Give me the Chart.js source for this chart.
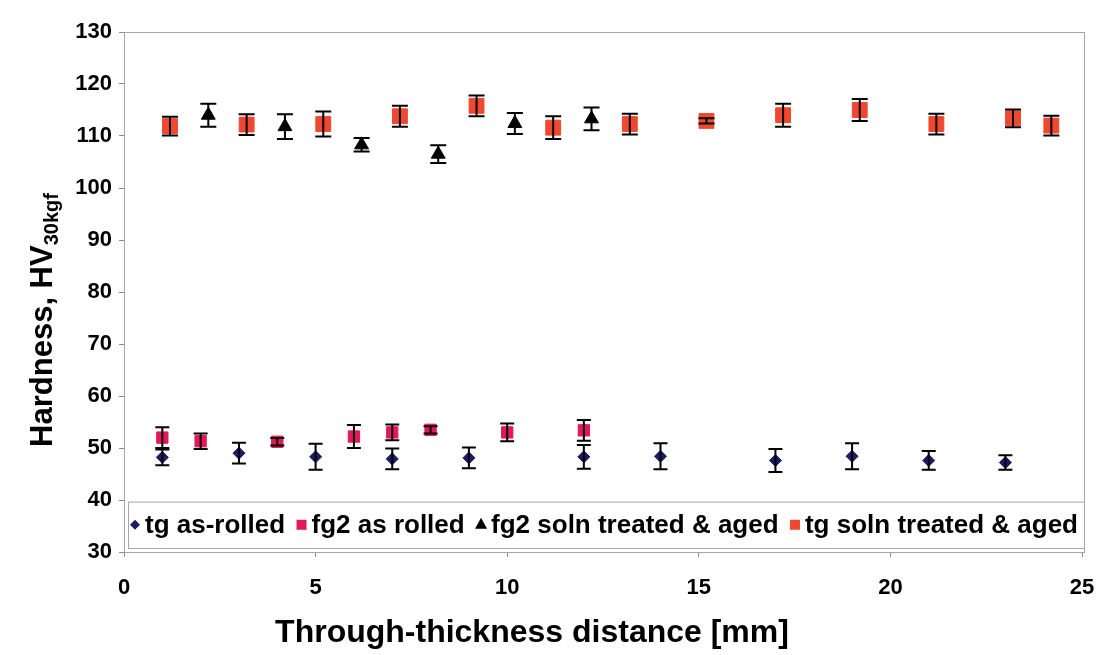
<!DOCTYPE html>
<html>
<head>
<meta charset="utf-8">
<script src="https://cdn.jsdelivr.net/npm/chart.js@4.4.1/dist/chart.umd.min.js"></script>
<style>
  body { margin: 0; background: #fff; }
  #wrap { width: 1096px; height: 655px; }
</style>
</head>
<body>
<div id="wrap"><canvas id="hardness-chart" width="1096" height="655"></canvas></div>
<script>
// tg as-rolled
const tgRolledX = [1, 3, 5, 7, 9, 12, 14, 17, 19, 21, 23];
const tgRolledY = [48.2, 49, 48.3, 47.9, 48.1, 48.3, 48.4, 47.6, 48.4, 47.6, 47.2];
const tgRolledErr = [1.5, 2, 2.5, 2, 2, 2.3, 2.5, 2.2, 2.5, 1.8, 1.4];

// fg2 as rolled
const fg2RolledX = [1, 2, 4, 6, 7, 8, 10, 12];
const fg2RolledY = [52, 51.3, 51.2, 52.2, 53, 53.5, 53, 53.4];
const fg2RolledErr = [2, 1.5, 0.7, 2.2, 1.5, 0.7, 1.7, 2];

// fg2 soln treated & aged
const fg2AgedX = [2.2, 4.2, 6.2, 8.2, 10.2, 12.2];
const fg2AgedY = [114, 111.8, 108.3, 106.5, 112.4, 113.3];
const fg2AgedErr = [2.2, 2.4, 1.3, 1.7, 2, 2.2];

// tg soln treated & aged
const tgAgedX = [1.2, 3.2, 5.2, 7.2, 9.2, 11.2, 13.2, 15.2, 17.2, 19.2, 21.2, 23.2, 24.2];
const tgAgedY = [111.9, 112.2, 112.3, 113.8, 115.8, 111.6, 112.3, 112.9, 114, 115, 112.3, 113.4, 112];
const tgAgedErr = [1.8, 2, 2.4, 2, 2, 2.2, 2, 0.5, 2.2, 2.1, 2, 1.7, 1.9];

const xTicks = [0, 5, 10, 15, 20, 25];
const yTicks = [30, 40, 50, 60, 70, 80, 90, 100, 110, 120, 130];

function toPoints(xs, ys) {
  return xs.map((x, i) => ({ x: x, y: ys[i] }));
}

const FONT = "'Liberation Sans', Arial, sans-serif";

// error bars, drawn with the chart's own scales
const errorBars = {
  id: "errorBars",
  afterDatasetsDraw(chart) {
    const ctx = chart.ctx;
    const xs = chart.scales.x;
    const ys = chart.scales.y;
    ctx.save();
    ctx.strokeStyle = "#000";
    ctx.lineWidth = 2;
    chart.data.datasets.forEach((ds) => {
      ds.data.forEach((p, i) => {
        const e = ds.errors[i];
        const px = xs.getPixelForValue(p.x);
        const top = ys.getPixelForValue(p.y + e);
        const bot = ys.getPixelForValue(p.y - e);
        const cap = ds.capWidth;
        ctx.beginPath();
        ctx.moveTo(px, top);
        ctx.lineTo(px, bot);
        ctx.moveTo(px - cap, top);
        ctx.lineTo(px + cap, top);
        ctx.moveTo(px - cap, bot);
        ctx.lineTo(px + cap, bot);
        ctx.stroke();
      });
    });
    ctx.restore();
  },
};

// plot frame, legend inside the plot area and the axis titles
const decorations = {
  id: "decorations",
  beforeDatasetsDraw(chart) {
    const ctx = chart.ctx;
    const a = chart.chartArea;
    ctx.save();
    ctx.strokeStyle = "#a6a6a6";
    ctx.lineWidth = 1;
    ctx.strokeRect(a.left + 0.5, a.top + 0.5, a.right - a.left + 2, a.bottom - a.top);
    ctx.restore();
  },
  afterDraw(chart) {
    const ctx = chart.ctx;
    const a = chart.chartArea;

    // legend box
    const boxTop = chart.scales.y.getPixelForValue(39.7);
    const boxBottom = a.bottom - 4;
    ctx.save();
    ctx.fillStyle = "#fff";
    ctx.fillRect(a.left + 4, boxTop, a.right - a.left - 2, boxBottom - boxTop);
    ctx.strokeStyle = "#a6a6a6";
    ctx.lineWidth = 1;
    ctx.strokeRect(a.left + 4.5, boxTop + 0.5, a.right - a.left - 2, boxBottom - boxTop);

    ctx.font = "bold 26px " + FONT;
    ctx.textBaseline = "middle";
    ctx.fillStyle = "#000";
    const midY = (boxTop + boxBottom) / 2;
    const items = chart.data.datasets.map((ds) => ({
      text: ds.label,
      ds: ds,
      w: ctx.measureText(ds.label).width,
    }));
    const markerW = 15;
    let total = 0;
    items.forEach((it) => (total += markerW + it.w));
    const gap = (a.right - a.left - 10 - total) / (items.length - 1);
    let x = a.left + 6;
    items.forEach((it) => {
      const mx = x + 5;
      ctx.fillStyle = it.ds.backgroundColor;
      ctx.beginPath();
      if (it.ds.pointStyle === "rectRot") {
        ctx.moveTo(mx - 5, midY);
        ctx.lineTo(mx, midY - 5);
        ctx.lineTo(mx + 5, midY);
        ctx.lineTo(mx, midY + 5);
      } else if (it.ds.pointStyle === "triangle") {
        ctx.moveTo(mx, midY - 7);
        ctx.lineTo(mx + 6, midY + 4);
        ctx.lineTo(mx - 6, midY + 4);
      } else {
        ctx.rect(mx - 5, midY - 5, 10, 10);
      }
      ctx.closePath();
      ctx.fill();
      ctx.fillStyle = "#000";
      ctx.fillText(it.text, x + markerW, midY + 1);
      x += markerW + it.w + gap;
    });

    // x axis title
    ctx.font = "bold 32px " + FONT;
    ctx.textAlign = "center";
    ctx.textBaseline = "middle";
    ctx.fillText("Through-thickness distance [mm]", 532, 633);

    // y axis title: Hardness, HV with subscript 30kgf
    const cx = 41;
    const cy = (a.top + a.bottom) / 2 + 28;
    ctx.translate(cx, cy);
    ctx.rotate(-Math.PI / 2);
    ctx.textBaseline = "alphabetic";
    ctx.textAlign = "left";
    const main = "Hardness, HV";
    const sub = "30kgf";
    ctx.font = "bold 31px " + FONT;
    const mw = ctx.measureText(main).width;
    ctx.font = "bold 20px " + FONT;
    const sw = ctx.measureText(sub).width;
    const start = -(mw + sw) / 2;
    ctx.font = "bold 31px " + FONT;
    ctx.fillText(main, start, 11);
    ctx.font = "bold 20px " + FONT;
    ctx.fillText(sub, start + mw, 17);
    ctx.restore();
  },
};

const ctx = document.getElementById("hardness-chart").getContext("2d");
new Chart(ctx, {
  type: "scatter",
  data: {
    datasets: [
      {
        label: "tg as-rolled",
        data: toPoints(tgRolledX, tgRolledY),
        errors: tgRolledErr,
        capWidth: 7,
        pointStyle: "rectRot",
        pointRadius: 6,
        backgroundColor: "#1c1c66",
        borderColor: "#1c1c66",
        borderWidth: 1,
      },
      {
        label: "fg2 as rolled",
        data: toPoints(fg2RolledX, fg2RolledY),
        errors: fg2RolledErr,
        capWidth: 7,
        pointStyle: "rect",
        pointRadius: 8,
        backgroundColor: "#e3175b",
        borderColor: "#e3175b",
        borderWidth: 1,
      },
      {
        label: "fg2 soln treated & aged",
        data: toPoints(fg2AgedX, fg2AgedY),
        errors: fg2AgedErr,
        capWidth: 8,
        pointStyle: "triangle",
        pointRadius: 8,
        backgroundColor: "#000",
        borderColor: "#000",
        borderWidth: 1,
      },
      {
        label: "tg soln treated & aged",
        data: toPoints(tgAgedX, tgAgedY),
        errors: tgAgedErr,
        capWidth: 8,
        pointStyle: "rect",
        pointRadius: 10.5,
        backgroundColor: "#f0472f",
        borderColor: "#f0472f",
        borderWidth: 1,
      },
    ],
  },
  options: {
    responsive: false,
    animation: false,
    layout: {
      padding: { top: 32, right: 0, bottom: 0, left: 0 },
    },
    plugins: {
      legend: { display: false },
      tooltip: { enabled: false },
    },
    scales: {
      x: {
        type: "linear",
        min: 0,
        max: 25,
        afterFit: (scale) => {
          scale.height = 103;
          scale.paddingLeft = 0;
          scale.paddingRight = 14;
        },
        afterBuildTicks: (scale) => {
          scale.ticks = xTicks.map((v) => ({ value: v }));
        },
        border: { color: "#8c8c8c", width: 1 },
        grid: {
          drawOnChartArea: false,
          drawTicks: true,
          tickLength: 5,
          color: "#8c8c8c",
        },
        ticks: {
          color: "#000",
          padding: 18,
          font: { family: FONT, size: 22, weight: "bold" },
        },
      },
      y: {
        type: "linear",
        min: 30,
        max: 130,
        afterFit: (scale) => {
          scale.width = 124;
        },
        afterBuildTicks: (scale) => {
          scale.ticks = yTicks.map((v) => ({ value: v }));
        },
        border: { color: "#8c8c8c", width: 1 },
        grid: {
          drawOnChartArea: false,
          drawTicks: true,
          tickLength: 5,
          color: "#8c8c8c",
        },
        ticks: {
          color: "#000",
          padding: 7,
          font: { family: FONT, size: 22, weight: "bold" },
        },
      },
    },
  },
  plugins: [errorBars, decorations],
});
</script>
</body>
</html>
